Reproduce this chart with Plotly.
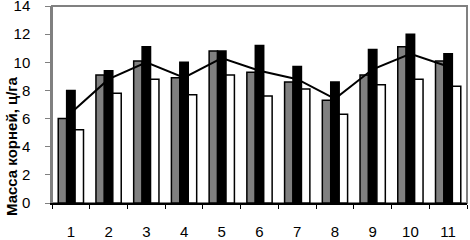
import plotly.graph_objects as go

categories = ["1", "2", "3", "4", "5", "6", "7", "8", "9", "10", "11"]
series_gray = [6.0, 9.1, 10.1, 8.9, 10.8, 9.3, 8.6, 7.3, 9.1, 11.1, 10.1]
series_black = [8.0, 9.4, 11.1, 10.0, 10.8, 11.2, 9.7, 8.6, 10.9, 12.0, 10.6]
series_white = [5.2, 7.8, 8.8, 7.7, 9.1, 7.6, 8.1, 6.3, 8.4, 8.8, 8.3]
line_values = [6.4, 8.8, 10.0, 8.9, 10.3, 9.4, 8.8, 7.4, 9.5, 10.6, 9.7]
y_ticks = [0, 2, 4, 6, 8, 10, 12, 14]
y_title = "Масса корней, ц/га"

fig = go.Figure()
fig.add_trace(go.Bar(x=categories, y=series_gray, marker=dict(color="#808080", line=dict(color="black", width=1.5))))
fig.add_trace(go.Bar(x=categories, y=series_black, marker=dict(color="#000000", line=dict(color="black", width=1.5))))
fig.add_trace(go.Bar(x=categories, y=series_white, marker=dict(color="#ffffff", line=dict(color="black", width=1.5))))
fig.add_trace(go.Scatter(x=categories, y=line_values, mode="lines", line=dict(color="black", width=2)))

fig.update_layout(
    width=470, height=240,
    margin=dict(l=52, r=3, t=6, b=37),
    paper_bgcolor="white", plot_bgcolor="white",
    showlegend=False,
    barmode="group", bargap=0.33, bargroupgap=0,
    font=dict(family="Liberation Sans, Arial, sans-serif", size=15, color="black"),
    xaxis=dict(
        type="category", showline=True, linecolor="black", linewidth=1.5,
        ticks="outside", tickson="boundaries", ticklen=4, tickcolor="black",
        showgrid=False, ticklabelstandoff=14, automargin=False,
    ),
    yaxis=dict(
        range=[0, 14], tickvals=y_ticks, showline=True, linecolor="#808080", linewidth=1.5,
        ticks="outside", ticklen=5, tickcolor="#808080", showgrid=False, zeroline=False,
        ticklabelstandoff=12, automargin=False, ticklabeloverflow="allow",
    ),
    shapes=[dict(type="rect", xref="paper", yref="paper", x0=0, x1=1, y0=0, y1=1,
                 line=dict(color="#808080", width=2), layer="below")],
    annotations=[dict(text="<b>" + y_title + "</b>", textangle=-90, xref="paper", yref="paper",
                      x=-0.096, y=0.29, xanchor="center", yanchor="middle", showarrow=False,
                      font=dict(size=15))],
)

fig.write_html("out.html", config={"displayModeBar": False},
               post_script="document.body.style.margin='0';document.body.style.overflow='hidden';")
